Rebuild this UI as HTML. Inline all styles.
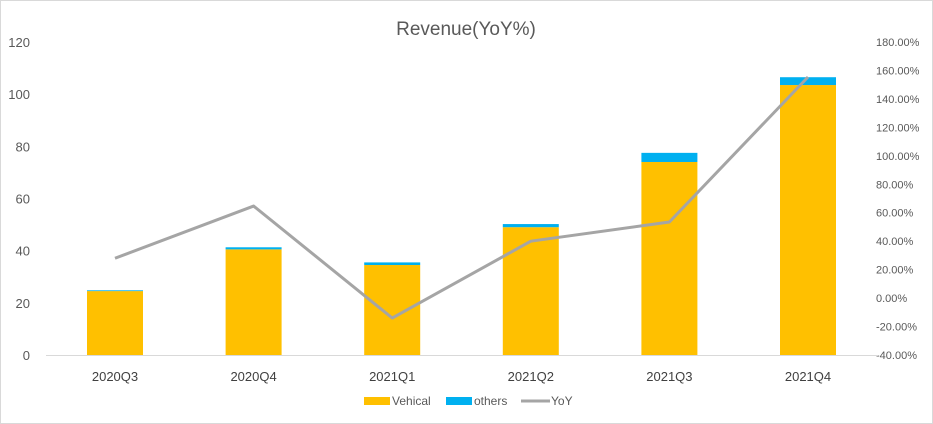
<!DOCTYPE html>
<html><head><meta charset="utf-8"><style>
html,body{margin:0;padding:0;background:#fff;}
svg{display:block;font-family:"Liberation Sans",sans-serif;}
</style></head><body>
<svg id="chart" width="933" height="424">
<rect x="0.5" y="0.5" width="932" height="423" fill="#fff" stroke="#d9d9d9"/>
<text x="466" y="35" text-anchor="middle" font-size="19" fill="#595959">Revenue(YoY%)</text>
<g id="axes"></g><g id="bars"></g><g id="line"></g>
<g>
<rect x="364" y="397" width="26" height="8" fill="#ffc000"/>
<text x="392" y="405" font-size="12" fill="#595959">Vehical</text>
<rect x="446" y="397" width="26" height="8" fill="#00b0f0"/>
<text x="474" y="405" font-size="12" fill="#595959">others</text>
<line x1="521" y1="401" x2="550" y2="401" stroke="#a5a5a5" stroke-width="3"/>
<text x="551" y="405" font-size="12" fill="#595959">YoY</text>
</g>
</svg>
<script>
const categories=["2020Q3","2020Q4","2021Q1","2021Q2","2021Q3","2021Q4"];
const vehical=[24.5,40.5,34.5,49,74,103.5];
const others=[0.3,0.8,1,1.2,3.5,3];
const yoy=[28,64.7,-14,40,53.5,155.4];
const leftTicks=[0,20,40,60,80,100,120];
const rightTicks=[-40,-20,0,20,40,60,80,100,120,140,160,180];
const NS="http://www.w3.org/2000/svg";
const y0=355,yTop=42;
const yL=v=>y0-(v/120)*(y0-yTop);
const yR=v=>y0-((v+40)/220)*(y0-yTop);
const xC=i=>115+i*138.6;
function mk(t,a,p){const e=document.createElementNS(NS,t);for(const k in a)e.setAttribute(k,a[k]);p.appendChild(e);return e;}
const ax=document.getElementById('axes'),bg=document.getElementById('bars'),lg=document.getElementById('line');
leftTicks.forEach(v=>{const t=mk('text',{x:30,y:yL(v)+5,'text-anchor':'end','font-size':13,fill:'#595959'},ax);t.textContent=v;

});
rightTicks.forEach(v=>{const t=mk('text',{x:876,y:yR(v)+4,'font-size':11,fill:'#595959'},ax);t.textContent=v.toFixed(2)+'%';

});
const base=mk('line',{x1:46,x2:878,y1:y0+0.5,y2:y0+0.5,stroke:'#d9d9d9'},ax);


categories.forEach((c,i)=>{const t=mk('text',{x:xC(i),y:381,'text-anchor':'middle','font-size':13,fill:'#404040'},ax);t.textContent=c;


const w=56;
const r1=mk('rect',{x:xC(i)-w/2,y:yL(vehical[i]),width:w,height:y0-yL(vehical[i]),fill:'#ffc000'},bg);


const r2=mk('rect',{x:xC(i)-w/2,y:yL(vehical[i]+others[i]),width:w,height:yL(vehical[i])-yL(vehical[i]+others[i]),fill:'#00b0f0'},bg);

});
const pl=mk('polyline',{points:yoy.map((v,i)=>xC(i)+','+yR(v)).join(' '),fill:'none',stroke:'#a5a5a5','stroke-width':3,'stroke-linejoin':'round'},lg);


</script>
</body></html>
